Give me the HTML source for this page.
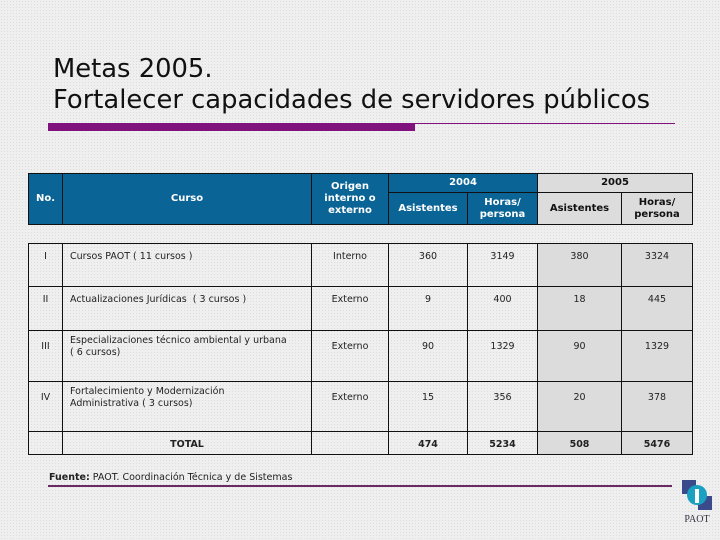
<!DOCTYPE html>
<html><head><meta charset="utf-8"><style>
body{margin:0;width:720px;height:540px;overflow:hidden;background:#efefef;background-image:radial-gradient(#dcdcdc 0.6px,transparent 0.7px);background-size:3px 3px;font-family:"DejaVu Sans","Liberation Sans",sans-serif;position:relative}
.t{position:absolute;left:53px;font-family:"DejaVu Sans",sans-serif;font-size:25.8px;color:#111;line-height:31px}
table{position:absolute;border-collapse:collapse;font-size:9.5px;table-layout:fixed}
td{border:1px solid #111;text-align:center;padding:0;color:#222}
.h td{background:#0b6496;color:#fff;font-weight:bold;font-size:10px;line-height:12px}
.h td.g{background:#dcdcdc;color:#111}
.b td{vertical-align:top;padding-top:7px}
.b td.g{background:#dcdcdc}
.b td.l{text-align:left;padding-left:7px}
</style></head><body>
<div class="t" style="top:54px">Metas 2005.</div>
<div class="t" style="top:85px">Fortalecer capacidades de servidores públicos</div>
<div style="position:absolute;left:48px;top:123px;width:367px;height:8px;background:#80127e"></div>
<div style="position:absolute;left:48px;top:123px;width:627px;height:1px;background:#80127e"></div>
<table class="h" style="left:28px;top:173px;width:664px;height:51px">
<colgroup><col style="width:34px"><col style="width:249px"><col style="width:77px"><col style="width:79px"><col style="width:70px"><col style="width:84px"><col style="width:71px"></colgroup>
<tr style="height:19px"><td rowspan="2">No.</td><td rowspan="2">Curso</td><td rowspan="2">Origen<br>interno o<br>externo</td><td colspan="2">2004</td><td colspan="2" class="g">2005</td></tr>
<tr style="height:32px"><td>Asistentes</td><td>Horas/<br>persona</td><td class="g">Asistentes</td><td class="g">Horas/<br>persona</td></tr>
</table>
<table class="b" style="left:28px;top:243px;width:664px;height:211px">
<colgroup><col style="width:34px"><col style="width:249px"><col style="width:77px"><col style="width:79px"><col style="width:70px"><col style="width:84px"><col style="width:71px"></colgroup>
<tr style="height:43px"><td>I</td><td class="l">Cursos PAOT ( 11 cursos )</td><td>Interno</td><td>360</td><td>3149</td><td class="g">380</td><td class="g">3324</td></tr>
<tr style="height:44px"><td>II</td><td class="l">Actualizaciones Jurídicas &nbsp;( 3 cursos )</td><td>Externo</td><td>9</td><td>400</td><td class="g">18</td><td class="g">445</td></tr>
<tr style="height:51px"><td style="padding-top:10px">III</td><td class="l" style="padding-top:4px;line-height:12px">Especializaciones técnico ambiental y urbana<br>( 6 cursos)</td><td style="padding-top:10px">Externo</td><td style="padding-top:10px">90</td><td style="padding-top:10px">1329</td><td class="g" style="padding-top:10px">90</td><td class="g" style="padding-top:10px">1329</td></tr>
<tr style="height:50px"><td style="padding-top:10px">IV</td><td class="l" style="padding-top:4px;line-height:12px">Fortalecimiento y Modernización<br>Administrativa ( 3 cursos)</td><td style="padding-top:10px">Externo</td><td style="padding-top:10px">15</td><td style="padding-top:10px">356</td><td class="g" style="padding-top:10px">20</td><td class="g" style="padding-top:10px">378</td></tr>
<tr style="height:23px;font-weight:bold"><td></td><td>TOTAL</td><td></td><td>474</td><td>5234</td><td class="g">508</td><td class="g">5476</td></tr>
</table>
<div style="position:absolute;left:49px;top:472px;font-size:9.5px;color:#222"><b>Fuente:</b> PAOT. Coordinación Técnica y de Sistemas</div>
<div style="position:absolute;left:48px;top:485px;width:624px;height:2px;background:#6a2a66"></div>
<div style="position:absolute;left:682px;top:480px;width:30px;height:42px">
<svg width="30" height="30"><rect x="0" y="0" width="14" height="14" fill="#3a4a8a"/><rect x="16" y="16" width="14" height="14" fill="#3a4a8a"/><circle cx="15" cy="15" r="10" fill="#1aa0c0"/><rect x="13" y="9" width="4" height="14" fill="#fff"/></svg>
<div style="font-family:'Liberation Serif',serif;font-size:10px;color:#334;text-align:center">PAOT</div>
</div>
</body></html>
